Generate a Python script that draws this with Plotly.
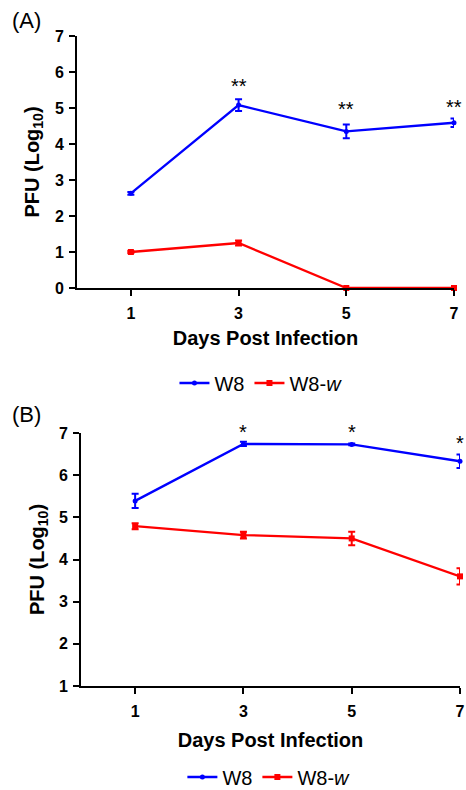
import plotly.graph_objects as go

days = [1, 3, 5, 7]
# Panel A
a_w8 = [2.63, 5.08, 4.35, 4.59]
a_w8_err = [0.04, 0.16, 0.19, 0.12]
a_w8w = [1.0, 1.25, 0.0, 0.0]
a_w8w_err = [0.03, 0.07, 0.0, 0.0]
a_sig_days = [3, 5, 7]
a_sig_y = [5.62, 4.98, 5.04]
a_sig_txt = ["**", "**", "**"]
# Panel B
b_w8 = [5.39, 6.74, 6.73, 6.33]
b_w8_err = [0.17, 0.05, 0.02, 0.16]
b_w8w = [4.79, 4.58, 4.50, 3.60]
b_w8w_err = [0.07, 0.08, 0.16, 0.19]
b_sig_days = [3, 5, 7]
b_sig_y = [7.0, 7.0, 6.74]
b_sig_txt = ["*", "*", "*"]

BLUE = "#0000ff"
RED = "#ff0000"
FONT = "Liberation Sans"

fig = go.Figure()

def add_pair(xa, ya, w8, w8e, w8w, w8we, legend):
    fig.add_trace(go.Scatter(
        x=days, y=w8, name="W8", mode="lines+markers",
        line=dict(color=BLUE, width=2.3),
        marker=dict(symbol="circle", size=5, color=BLUE),
        error_y=dict(type="data", array=w8e, color=BLUE, thickness=2, width=3.5),
        xaxis=xa, yaxis=ya, legend=legend, cliponaxis=False))
    fig.add_trace(go.Scatter(
        x=days, y=w8w, name="W8-<i>w</i>", mode="lines+markers",
        line=dict(color=RED, width=2.3),
        marker=dict(symbol="square", size=6, color=RED),
        error_y=dict(type="data", array=w8we, color=RED, thickness=2, width=3.5),
        xaxis=xa, yaxis=ya, legend=legend, cliponaxis=False))

add_pair("x", "y", a_w8, a_w8_err, a_w8w, a_w8w_err, "legend")
add_pair("x2", "y2", b_w8, b_w8_err, b_w8w, b_w8w_err, "legend2")

axis_common = dict(
    showline=True, linecolor="black", linewidth=2,
    ticks="outside", ticklen=6, tickwidth=2, tickcolor="black",
    showgrid=False, zeroline=False,
    tickfont=dict(family=FONT, size=16, color="black", weight="bold"),
    automargin=False,
)
title_font = dict(family=FONT, size=20, color="black", weight="bold")

fig.update_layout(
    width=466, height=790,
    margin=dict(l=0, r=0, t=0, b=0, autoexpand=False),
    paper_bgcolor="white", plot_bgcolor="white",
    font=dict(family=FONT, color="black"),
    xaxis=dict(domain=[77/466, 454/466], range=[0, 7], tickvals=days, ticklabelstandoff=4,
               title=dict(text="Days Post Infection", font=title_font, standoff=10),
               anchor="y", **axis_common),
    yaxis=dict(domain=[1-288/790, 1-36/790], range=[0, 7], dtick=1, ticklabelstandoff=2,
               title=dict(text="PFU (Log<sub>10</sub>)", font=title_font, standoff=10),
               anchor="x", **axis_common),
    xaxis2=dict(domain=[81/466, 460/466], range=[0, 7], tickvals=days, ticklabelstandoff=4,
                title=dict(text="Days Post Infection", font=title_font, standoff=14),
                anchor="y2", **axis_common),
    yaxis2=dict(domain=[1-686/790, 1-433/790], range=[1, 7], dtick=1, ticklabelstandoff=2,
                title=dict(text="PFU (Log<sub>10</sub>)", font=title_font, standoff=9),
                anchor="x2", **axis_common),
    legend=dict(orientation="h", x=0.56, y=1-383/790, xanchor="center", yanchor="middle",
                font=dict(family=FONT, size=20), itemwidth=30, tracegroupgap=0),
    legend2=dict(orientation="h", x=0.577, y=1-777/790, xanchor="center", yanchor="middle",
                 font=dict(family=FONT, size=20), itemwidth=30, tracegroupgap=0),
    showlegend=True,
)

anns = []
for d, yv, t in zip(a_sig_days, a_sig_y, a_sig_txt):
    anns.append(dict(x=d, y=yv, xref="x", yref="y", text=t, showarrow=False,
                     font=dict(family=FONT, size=20, color="black")))
for d, yv, t in zip(b_sig_days, b_sig_y, b_sig_txt):
    anns.append(dict(x=d, y=yv, xref="x2", yref="y2", text=t, showarrow=False, yshift=1,
                     font=dict(family=FONT, size=20, color="black")))
anns.append(dict(x=10/466, y=1-20/790, xref="paper", yref="paper", text="(A)", showarrow=False,
                 xanchor="left", yanchor="middle", font=dict(family=FONT, size=22, color="black")))
anns.append(dict(x=10/466, y=1-414/790, xref="paper", yref="paper", text="(B)", showarrow=False,
                 xanchor="left", yanchor="middle", font=dict(family=FONT, size=22, color="black")))
fig.update_layout(annotations=anns)

fig.write_html(
    "out.html",
    config={"displayModeBar": False},
    post_script="document.body.style.margin='0';document.body.style.overflow='hidden';",
)
